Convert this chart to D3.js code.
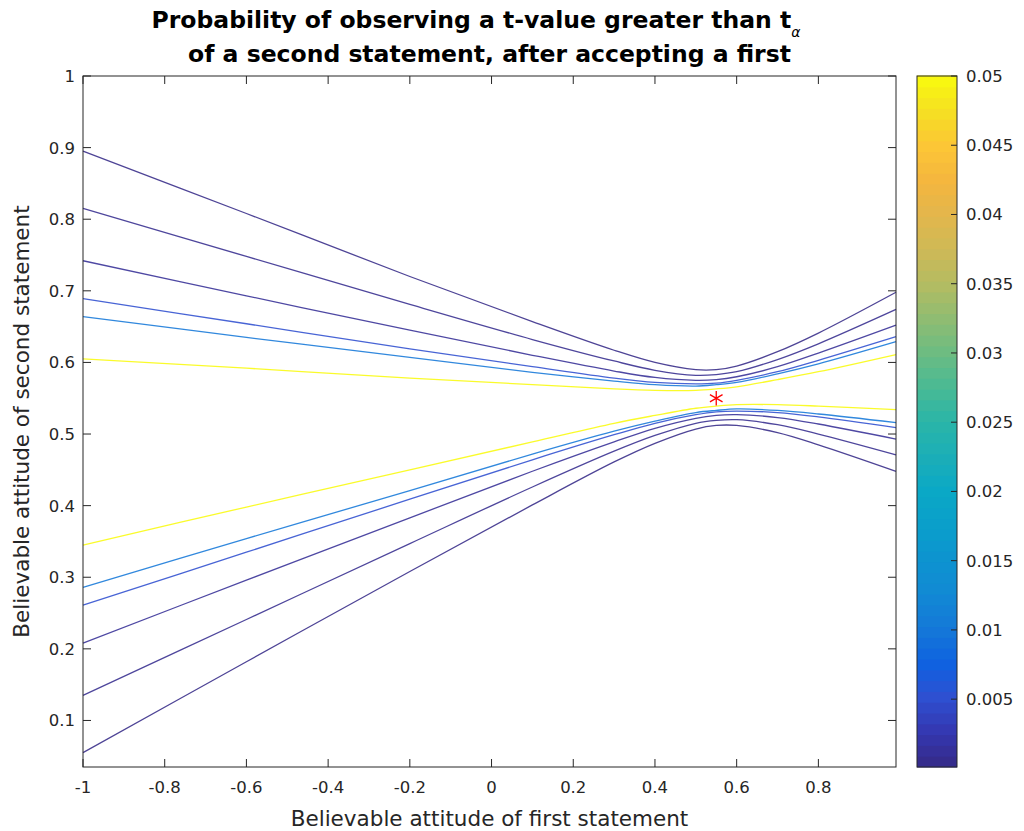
<!DOCTYPE html>
<html>
<head>
<meta charset="utf-8">
<script src="https://cdn.jsdelivr.net/npm/d3@7"></script>
<style>
  body { margin: 0; background: #fff; }
  svg text { font-family: "DejaVu Sans", sans-serif; fill: #262626; }
</style>
</head>
<body>
<div id="graf"></div>
<script>
// Datos
const xVals = [-1, -0.6, -0.2, 0.1, 0.3, 0.4, 0.5, 0.55, 0.6, 0.7, 0.8, 0.99]
const levels = [0.0001, 0.0005, 0.001, 0.005, 0.01, 0.05]
// curvas superiores (una por nivel)
const upper0001 = [0.895, 0.808, 0.72, 0.657, 0.617, 0.6, 0.59, 0.59, 0.595, 0.615, 0.641, 0.698]
const upper0005 = [0.815, 0.748, 0.681, 0.632, 0.602, 0.589, 0.582, 0.583, 0.587, 0.604, 0.626, 0.674]
const upper001 = [0.742, 0.693, 0.645, 0.61, 0.588, 0.579, 0.575, 0.576, 0.58, 0.594, 0.613, 0.652]
const upper005 = [0.689, 0.654, 0.619, 0.594, 0.578, 0.572, 0.57, 0.571, 0.575, 0.587, 0.603, 0.636]
const upper01 = [0.664, 0.635, 0.607, 0.586, 0.574, 0.569, 0.567, 0.569, 0.572, 0.584, 0.598, 0.629]
const upper05 = [0.605, 0.592, 0.578, 0.569, 0.563, 0.561, 0.561, 0.563, 0.566, 0.576, 0.587, 0.611]
// curvas inferiores
const lower0001 = [0.055, 0.182, 0.308, 0.401, 0.461, 0.487, 0.507, 0.512, 0.512, 0.502, 0.485, 0.448]
const lower0005 = [0.135, 0.241, 0.347, 0.426, 0.476, 0.498, 0.515, 0.519, 0.52, 0.513, 0.5, 0.471]
const lower001 = [0.208, 0.296, 0.383, 0.448, 0.489, 0.508, 0.522, 0.526, 0.527, 0.523, 0.514, 0.493]
const lower005 = [0.261, 0.335, 0.409, 0.464, 0.499, 0.515, 0.527, 0.531, 0.532, 0.53, 0.524, 0.509]
const lower01 = [0.286, 0.354, 0.421, 0.472, 0.504, 0.518, 0.53, 0.533, 0.535, 0.533, 0.528, 0.516]
const lower05 = [0.345, 0.398, 0.45, 0.489, 0.515, 0.526, 0.536, 0.539, 0.541, 0.541, 0.539, 0.534]
const star = { x: 0.55, y: 0.55 }

const xTicks = [-1, -0.8, -0.6, -0.4, -0.2, 0, 0.2, 0.4, 0.6, 0.8]
const yTicks = [0.1, 0.2, 0.3, 0.4, 0.5, 0.6, 0.7, 0.8, 0.9, 1]
const cTicks = [0.005, 0.01, 0.015, 0.02, 0.025, 0.03, 0.035, 0.04, 0.045, 0.05]

const curves = [
  { level: levels[0], vals: upper0001 }, { level: levels[1], vals: upper0005 },
  { level: levels[2], vals: upper001 }, { level: levels[3], vals: upper005 },
  { level: levels[4], vals: upper01 }, { level: levels[5], vals: upper05 },
  { level: levels[0], vals: lower0001 }, { level: levels[1], vals: lower0005 },
  { level: levels[2], vals: lower001 }, { level: levels[3], vals: lower005 },
  { level: levels[4], vals: lower01 }, { level: levels[5], vals: lower05 },
]

// Dimensiones
const W = 1024, H = 831
const plot = { left: 83, right: 896, top: 76, bottom: 767 }
const cbar = { left: 917, right: 957 }
const tickFont = 16.5, labelFont = 21.5, titleFont = 23.5

const svg = d3.select("#graf").append("svg").attr("width", W).attr("height", H)

// Escaladores
const x = d3.scaleLinear().domain([-1, 0.99]).range([plot.left, plot.right])
const y = d3.scaleLinear().domain([0.035, 1]).range([plot.bottom, plot.top])
const cdom = [0.0001, 0.05]
const parulaStops = ["#352a87", "#3437b0", "#2f4fd0", "#0f62e0", "#1478d8", "#1289d4", "#0d93d0",
  "#0a9fca", "#0aa8c6", "#1caeb7", "#2ab5a8", "#4aba94", "#6dbc82", "#90bc71", "#b4bc62",
  "#cfb956", "#e3b64c", "#f5b63e", "#fcc636", "#f5e022", "#f9fb0e"]
const parula = d3.scaleLinear()
  .domain(d3.range(parulaStops.length).map((i) => i / (parulaStops.length - 1)))
  .range(parulaStops)
const color = (v) => parula((v - cdom[0]) / (cdom[1] - cdom[0]))

// Curvas
const line = d3.line()
  .x((d) => x(d[0]))
  .y((d) => y(d[1]))
  .curve(d3.curveCatmullRom.alpha(0.5))

const gPlot = svg.append("g")
gPlot.selectAll("path.curve")
  .data(curves)
  .join("path")
  .attr("class", "curve")
  .attr("d", (c) => line(c.vals.map((v, i) => [xVals[i], v])))
  .attr("fill", "none")
  .attr("stroke", (c) => color(c.level))
  .attr("stroke-opacity", 0.88)
  .attr("stroke-width", 1.3)

// Estrella
gPlot.append("path")
  .attr("d", d3.symbol(d3.symbolAsterisk, 150)())
  .attr("transform", `translate(${x(star.x)}, ${y(star.y)})`)
  .attr("fill", "none")
  .attr("stroke", "#ff0000")
  .attr("stroke-width", 1.3)

// Ejes
const axisColor = "#262626"
const tickLen = 8
const gAx = svg.append("g")
gAx.append("rect")
  .attr("x", plot.left).attr("y", plot.top)
  .attr("width", plot.right - plot.left).attr("height", plot.bottom - plot.top)
  .attr("fill", "none").attr("stroke", axisColor).attr("stroke-width", 1)

xTicks.forEach((t) => {
  const px = x(t)
  gAx.append("line").attr("x1", px).attr("x2", px).attr("y1", plot.bottom).attr("y2", plot.bottom - tickLen).attr("stroke", axisColor)
  gAx.append("line").attr("x1", px).attr("x2", px).attr("y1", plot.top).attr("y2", plot.top + tickLen).attr("stroke", axisColor)
  gAx.append("text").attr("x", px).attr("y", plot.bottom + 26).attr("text-anchor", "middle")
    .attr("font-size", tickFont).text(t)
})
yTicks.forEach((t) => {
  const py = y(t)
  gAx.append("line").attr("x1", plot.left).attr("x2", plot.left + tickLen).attr("y1", py).attr("y2", py).attr("stroke", axisColor)
  gAx.append("line").attr("x1", plot.right).attr("x2", plot.right - tickLen).attr("y1", py).attr("y2", py).attr("stroke", axisColor)
  gAx.append("text").attr("x", plot.left - 8).attr("y", py + 6).attr("text-anchor", "end")
    .attr("font-size", tickFont).text(t)
})

svg.append("text")
  .attr("x", (plot.left + plot.right) / 2).attr("y", 826)
  .attr("text-anchor", "middle").attr("font-size", labelFont)
  .text("Believable attitude of first statement")
svg.append("text")
  .attr("transform", `translate(29, ${(plot.top + plot.bottom) / 2}) rotate(-90)`)
  .attr("text-anchor", "middle").attr("font-size", labelFont)
  .text("Believable attitude of second statement")

// Titulo
const title = svg.append("text")
  .attr("x", 476).attr("y", 28)
  .attr("text-anchor", "middle").attr("font-size", titleFont).attr("font-weight", "bold")
  .style("fill", "#000")
title.append("tspan").text("Probability of observing a t-value greater than t")
title.append("tspan").attr("dy", 9).attr("font-size", 14).attr("font-style", "italic")
  .attr("font-weight", "normal").text("\u03b1")
svg.append("text")
  .attr("x", (plot.left + plot.right) / 2).attr("y", 62)
  .attr("text-anchor", "middle").attr("font-size", titleFont).attr("font-weight", "bold")
  .style("fill", "#000")
  .text("of a second statement, after accepting a first")

// Barra de color
const cy = d3.scaleLinear().domain(cdom).range([plot.bottom, plot.top])
const nSteps = 64
const steps = d3.range(nSteps).map((i) => cdom[0] + (i + 0.5) * (cdom[1] - cdom[0]) / nSteps)
const stepH = (plot.bottom - plot.top) / nSteps
const gC = svg.append("g")
gC.selectAll("rect.step")
  .data(steps)
  .join("rect")
  .attr("class", "step")
  .attr("x", cbar.left)
  .attr("y", (d) => cy(d) - stepH / 2 - 0.5)
  .attr("width", cbar.right - cbar.left)
  .attr("height", stepH + 1)
  .attr("fill", (d) => color(d))
gC.append("rect")
  .attr("x", cbar.left).attr("y", plot.top)
  .attr("width", cbar.right - cbar.left).attr("height", plot.bottom - plot.top)
  .attr("fill", "none").attr("stroke", axisColor)
cTicks.forEach((t) => {
  const py = cy(t)
  gC.append("line").attr("x1", cbar.right).attr("x2", cbar.right - 6).attr("y1", py).attr("y2", py).attr("stroke", axisColor)
  gC.append("text").attr("x", cbar.right + 9).attr("y", py + 6).attr("font-size", tickFont).text(t)
})
</script>
</body>
</html>
